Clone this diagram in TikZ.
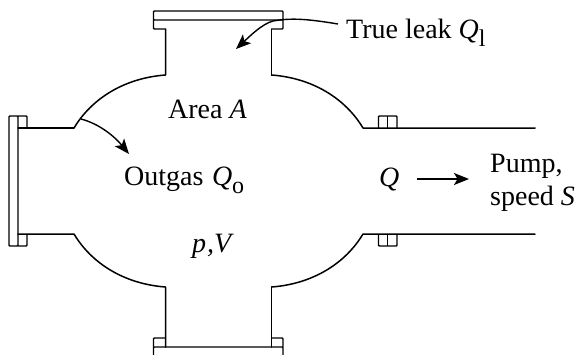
\documentclass[tikz,border=0pt]{standalone}
\usepackage{fontspec}
\setmainfont{Liberation Serif}
\usetikzlibrary{arrows.meta}
\newcommand{\lowsub}[1]{\raisebox{-8pt}{\fontsize{24}{26}\selectfont #1}}
\tikzset{
  x=1pt,y=-1pt,
  wall/.style={line width=1.5pt,line join=round,line cap=round},
  flangeline/.style={line width=1.4pt,line join=round},
  flow/.style={line width=1.4pt,-{Stealth[length=15pt,width=12pt,inset=3.5pt]}},
  lbl/.style={font=\fontsize{28}{32}\selectfont,inner sep=0pt,anchor=base west}
}
\begin{document}
\begin{tikzpicture}
\useasboundingbox (0,0) rectangle (579,354);
% junction points
\coordinate (tl) at (165.5,75); \coordinate (tr) at (271.5,75);
\coordinate (lt) at (74,128);   \coordinate (lb) at (74,234);
\coordinate (rt) at (363,128);  \coordinate (rb) at (363,234);
\coordinate (bl) at (165.5,287);\coordinate (br) at (271.5,287);
% body
\draw[wall] (lt) .. controls (92,98) and (125,78) .. (tl) -- (165.5,29);
\draw[wall] (tr) -- (271.5,29);
\draw[wall] (tr) .. controls (312,78) and (345,98) .. (rt) -- (535,128);
\draw[wall] (18,128) -- (lt);
\draw[wall] (18,234) -- (lb) .. controls (92,264) and (125,284) .. (bl) -- (165.5,347);
\draw[wall] (br) -- (271.5,347);
\draw[wall] (br) .. controls (312,284) and (345,264) .. (rb) -- (535,234);
% top flange
\draw[flangeline,rounded corners=0.8pt] (153.5,11) rectangle (283,20);
\draw[flangeline,rounded corners=0.8pt] (153.5,20) -- (153.5,29) -- (165.5,29);
\draw[flangeline,rounded corners=0.8pt] (283,20) -- (283,29) -- (271.5,29);
% left flange
\draw[flangeline,rounded corners=0.8pt] (9,116) rectangle (18,246);
\draw[flangeline,rounded corners=0.8pt] (18,116) -- (27,116) -- (27,128);
\draw[flangeline,rounded corners=0.8pt] (18,246) -- (27,246) -- (27,234);
% bottom flange
\draw[flangeline,rounded corners=0.8pt] (153.5,347) rectangle (283,358);
\draw[flangeline,rounded corners=0.8pt] (153.5,347) -- (153.5,338) -- (165.5,338);
\draw[flangeline,rounded corners=0.8pt] (283,347) -- (283,338) -- (271.5,338);
% right couplings
\draw[flangeline,rounded corners=0.8pt] (378.5,128) -- (378.5,116) -- (397,116) -- (397,128);
\draw[flangeline] (387.5,116) -- (387.5,128);
\draw[flangeline,rounded corners=0.8pt] (378.5,234) -- (378.5,246) -- (397,246) -- (397,234);
\draw[flangeline] (387.5,234) -- (387.5,246);
% labels
\node[lbl] (leak) at (346,38) {True leak \textit{Q}\lowsub{l}};
\node[lbl] (area) at (168,118) {Area \textit{A}};
\node[lbl] (outgas) at (124,185) {Outgas\hspace{1.5pt} \textit{Q}\lowsub{o}};
\node[lbl] (q) at (379,186) {\textit{Q}};
\node[lbl] (pump) at (490,172) {Pump,};
\node[lbl] (speed) at (490,205) {speed \textit{S}};
\node[lbl] (pv) at (192,252) {\textit{p}\hspace{1pt}\textit{,V}};
% arrows
\coordinate (leakstart) at (338,24);
\coordinate (leakmid) at (273,21);
\coordinate (leakend) at (236,49);
\draw[flow] (leakstart) .. controls (305,18.5) and (290,18) .. (leakmid) .. controls (262,24) and (250,36) .. (leakend);
\coordinate (gasstart) at (81,119);
\coordinate (gasend) at (129,154);
\draw[flow] (gasstart) .. controls (100,124) and (115,137) .. (gasend);
\coordinate (qstart) at (417,179);
\coordinate (qend) at (469,179);
\draw[flow] (qstart) -- (qend);
\end{tikzpicture}
\end{document}
